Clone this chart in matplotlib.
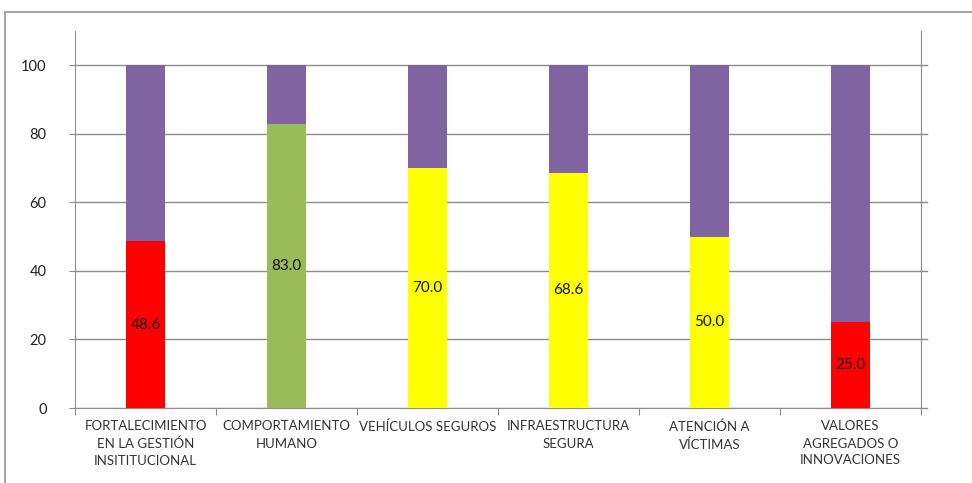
import numpy as np
import matplotlib.pyplot as plt
from matplotlib.lines import Line2D

categories = ["FORTALECIMIENTO\nEN LA GESTIÓN\nINSITITUCIONAL", "COMPORTAMIENTO\nHUMANO",
              "VEHÍCULOS SEGUROS", "INFRAESTRUCTURA\nSEGURA", "ATENCIÓN A\nVÍCTIMAS",
              "VALORES\nAGREGADOS O\nINNOVACIONES"]
scores = [48.6, 83.0, 70.0, 68.6, 50.0, 25.0]
score_colors = ["#FF0000", "#9BBB59", "#FFFF00", "#FFFF00", "#FFFF00", "#FF0000"]
total = 100
yticks = [0, 20, 40, 60, 80, 100]

plt.rcParams['font.family'] = ['Lato', 'DejaVu Sans']

fig = plt.figure(figsize=(9.72, 4.83), dpi=100, facecolor="white")
ax = fig.add_axes([75 / 972, 1 - 408 / 483, 846 / 972, 377 / 483])

x = np.arange(len(categories))
remaining = [total - s for s in scores]
ax.bar(x, scores, width=0.28, color=score_colors, zorder=3)
ax.bar(x, remaining, bottom=scores, width=0.28, color="#8064A2", zorder=3)

for xi, s in zip(x, scores):
    ax.text(xi, s / 2, f"{s:.1f}", ha="center", va="center", fontsize=11, color="#111111", zorder=4)

ax.set_xlim(-0.5, len(categories) - 0.5)
ax.set_ylim(0, 110)
ax.set_yticks(yticks)
ax.set_yticklabels([str(v) for v in yticks], fontsize=10.5, color="#222222")
ax.yaxis.grid(True, color="#8c8c8c", linewidth=1, zorder=0)
ax.tick_params(axis="y", length=4.5, color="#8c8c8c", pad=16)

# category ticks on boundaries, labels centred
ax.set_xticks(np.arange(len(categories) + 1) - 0.5)
ax.set_xticklabels([])
ax.set_xticks(x, minor=True)
ax.set_xticklabels(categories, minor=True, fontsize=9.5, color="#333333", linespacing=1.5)
ax.tick_params(axis="x", which="major", length=5, color="#8c8c8c")
ax.tick_params(axis="x", which="minor", length=0, pad=9)

for side in ["left", "right", "bottom"]:
    ax.spines[side].set_color("#8c8c8c")
ax.spines["top"].set_visible(False)

# gridlines poke past the right spine
for v in yticks:
    ax.plot([1.0, 1.007], [v, v], transform=ax.get_yaxis_transform(), color="#8c8c8c",
            linewidth=1, clip_on=False)

# outer chart border
fig.add_artist(Line2D([5 / 972, 1], [1 - 12 / 483, 1 - 12 / 483], color="#a6a6a6", linewidth=1.5))
fig.add_artist(Line2D([5 / 972, 5 / 972], [0, 1 - 12 / 483], color="#a6a6a6", linewidth=1.5))

fig.savefig("out.png", dpi=100, facecolor="white")
